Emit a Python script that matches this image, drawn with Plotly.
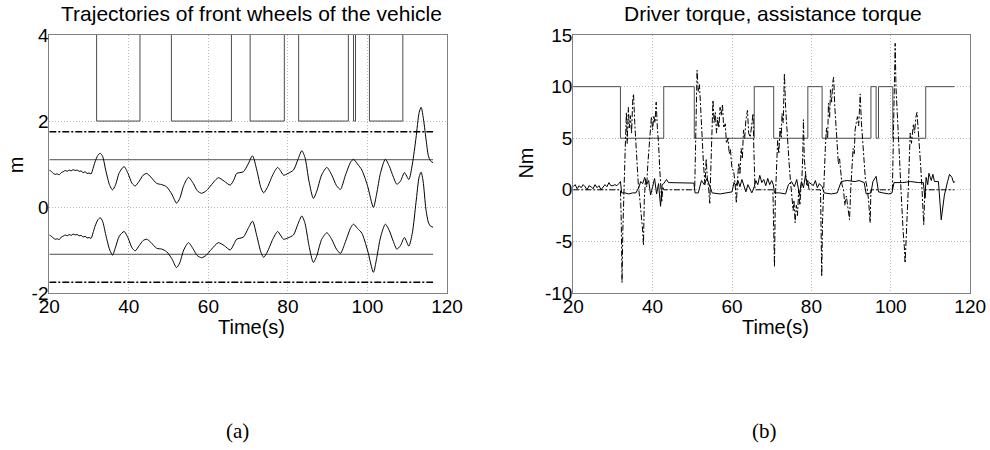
import plotly.graph_objects as go
from plotly.subplots import make_subplots

# ---------------- Left panel data (trajectories, m) ----------------
mode_t = [20, 31.9, 42.8, 50.7, 65.8, 70.5, 79.1, 82.7, 95.2, 96.5, 97.0, 100.5, 108.9, 116.5]
mode_left = [6, 2, 6, 2, 6, 2, 6, 2, 6, 2, 6, 2, 6, 6]

lane_t = [20, 116.5]
lane_outer = [1.75, -1.75]
lane_inner = [1.1, -1.1]

wheel_t = [20, 20.5, 21, 21.5, 22, 22.5, 23, 23.5, 24, 24.5, 25, 25.5, 26, 26.5, 27, 27.5, 28, 28.5,
           29, 29.5, 30, 30.5, 31, 31.5, 32.2, 32.8, 33.4, 34.2, 35.2, 35.9, 36.6, 37.6, 38.8, 39.8,
           40.8, 41.6, 42.6, 43.6, 44.5, 45.5, 47.0, 48.3, 49.5, 50.8, 52.0, 52.8, 53.8, 55.0, 56.2,
           57.2, 58.3, 59.5, 60.8, 62.5, 64.0, 65.5, 66.5, 67.1, 68.8, 70.0, 71.1, 72.2, 73.2, 73.9,
           74.8, 76.2, 77.4, 78.1, 78.9, 80.0, 81.4, 82.5, 83.5, 84.3, 85.3, 86.4, 87.2, 88.5, 89.8,
           91.0, 92.2, 93.2, 94.5, 95.8, 96.5, 97.5, 98.6, 100.0, 101.5, 102.3, 103.3, 104.5, 105.5,
           106.5, 107.4, 108.3, 109.3, 110.4, 111.3, 112.2, 113.0, 113.5, 114.0, 114.7, 115.3, 115.8, 116.5]
wheel_left = [0.86, 0.83, 0.78, 0.76, 0.77, 0.75, 0.80, 0.82, 0.85, 0.83, 0.86, 0.84, 0.87, 0.85, 0.86,
              0.83, 0.84, 0.80, 0.82, 0.78, 0.79, 0.77, 0.90, 1.05, 1.20, 1.25, 1.18, 0.85, 0.50, 0.40,
              0.50, 0.80, 0.94, 0.78, 0.55, 0.49, 0.60, 0.74, 0.78, 0.70, 0.55, 0.52, 0.47, 0.30, 0.09,
              0.20, 0.50, 0.69, 0.55, 0.38, 0.32, 0.38, 0.52, 0.68, 0.60, 0.51, 0.65, 0.78, 0.82, 1.00,
              1.19, 0.85, 0.45, 0.33, 0.45, 0.75, 0.92, 0.85, 0.74, 0.78, 0.86, 1.10, 1.31, 1.15, 0.60,
              0.20, 0.35, 0.75, 0.92, 0.75, 0.50, 0.41, 0.75, 1.05, 1.11, 1.00, 0.86, 0.50, -0.01, 0.30,
              0.80, 1.11, 0.95, 0.70, 0.53, 0.60, 0.80, 0.64, 1.00, 1.60, 2.20, 2.32, 2.10, 1.60, 1.20,
              1.08, 1.03]
wheel_right = [-0.65, -0.68, -0.72, -0.75, -0.74, -0.76, -0.70, -0.68, -0.65, -0.67, -0.64, -0.66, -0.63,
               -0.65, -0.64, -0.67, -0.66, -0.70, -0.68, -0.72, -0.71, -0.73, -0.60, -0.45, -0.30, -0.25,
               -0.33, -0.65, -1.00, -1.12, -0.95, -0.68, -0.57, -0.72, -0.95, -1.02, -0.90, -0.78, -0.75,
               -0.82, -0.96, -0.98, -1.04, -1.20, -1.41, -1.30, -1.00, -0.83, -0.98, -1.13, -1.18, -1.12,
               -0.98, -0.83, -0.90, -1.00, -0.85, -0.75, -0.70, -0.50, -0.33, -0.68, -1.05, -1.17, -1.05,
               -0.75, -0.57, -0.65, -0.75, -0.72, -0.65, -0.40, -0.21, -0.38, -0.90, -1.29, -1.15, -0.75,
               -0.60, -0.75, -0.98, -1.08, -0.80, -0.48, -0.40, -0.50, -0.61, -1.00, -1.52, -1.20, -0.70,
               -0.40, -0.55, -0.80, -0.98, -0.90, -0.71, -0.91, -0.60, 0.10, 0.70, 0.81, 0.60, -0.05,
               -0.35, -0.44, -0.47]

# ---------------- Right panel data (torques, Nm) ----------------
mode_t_r = [20, 31.9, 42.8, 50.5, 65.6, 70.5, 79.1, 82.7, 95.0, 96.3, 96.9, 100.5, 108.8, 116.0]
mode_right = [10, 5, 10, 5, 10, 5, 10, 5, 10, 5, 10, 5, 10, 10]

driver_t = [20, 20.5, 21, 21.5, 22, 22.5, 23, 23.5, 24, 24.5, 25, 25.5, 26, 26.5, 27, 27.5, 28, 28.5,
            29, 29.5, 30, 30.5, 31, 31.5, 31.9, 32.2, 33, 34, 35, 35.8, 36.5, 37, 37.5, 38, 38.5, 39,
            39.5, 40, 40.5, 41, 41.5, 42, 42.4, 42.8, 43.5, 44, 50.4, 50.7, 51.5, 52.3, 53, 53.7, 54.5,
            55, 57, 58.5, 60, 60.5, 61, 61.5, 62, 62.5, 63, 63.5, 64, 65, 65.6, 66, 66.5, 67, 67.5, 68,
            68.5, 69, 69.5, 70, 70.4, 70.7, 72, 73.5, 74.2, 75, 75.7, 76.3, 77, 77.5, 78, 78.5, 79,
            79.5, 80.5, 81, 81.5, 82, 82.7, 83.2, 85, 86.5, 87.5, 89, 91, 92, 93.3, 93.8, 95, 95.5,
            96.3, 96.9, 98, 99.5, 100.3, 100.8, 103, 105, 107, 108.2, 108.6, 108.9, 109.3, 109.6, 110.2,
            110.6, 111, 112, 112.7, 113.5, 114.3, 114.8, 115.4, 115.8, 116.2]
driver_torque = [0.3, 0.5, 0.1, 0.4, 0.2, 0.5, 0.3, 0.0, 0.4, 0.3, 0.1, 0.5, 0.2, 0.4, 0.0, 0.3, 0.5,
                 0.3, 0.7, 0.4, 0.4, 0.5, 0.4, 0.6, 0.8, -0.3, -0.3, -0.4, -0.3, -0.3, 0.2, 0.8, 0.6,
                 1.2, 0.5, 0.9, -0.5, 0.3, 1.1, -0.4, 0.6, -1.6, 0.5, 0.6, 1.0, 0.7, 0.65, -0.3, -0.3,
                 0.9, 0.5, 1.1, 0.2, -0.3, -0.4, -0.3, -0.2, 0.7, 0.4, 0.9, 0.3, 1.0, 0.4, -0.2, 0.5,
                 -0.3, 0.3, 0.9, 0.5, 1.4, 0.7, 1.0, 0.4, 1.1, 0.5, 0.9, 0.5, -0.3, -0.3, -0.4, 0.5,
                 0.8, 0.3, 1.0, -0.5, 0.8, 0.2, 1.4, 0.4, 0.7, 0.4, 0.9, 0.2, 0.6, 0.3, -0.3, -0.4,
                 -0.3, 0.8, 0.9, 0.8, 0.9, 0.7, -0.4, -0.3, 0.8, 1.3, -0.2, -0.3, -0.4, -0.3, 0.7, 0.7,
                 0.8, 0.7, 0.7, -0.8, 1.2, 0.5, 1.6, 0.9, 1.5, 0.8, 0.8, -2.9, -0.5, 0.8, 1.5, 1.2,
                 0.7, 0.8]

assist_t = [20, 31.9, 32.1, 32.3, 32.5, 32.8, 33.1, 33.4, 33.6, 33.9, 34.1, 34.4, 34.7, 35.0, 35.2, 35.5,
            35.8, 36.1, 36.4, 36.8, 37.2, 37.5, 37.7, 37.9, 38.2, 38.5, 38.8, 39.1, 39.4, 39.7, 40.0,
            40.3, 40.6, 40.9, 41.2, 41.5, 41.8, 42.1, 42.3, 42.6, 42.8,
            50.6, 50.9, 51.2, 51.5, 51.8, 52.1, 52.4, 52.8, 53.2, 53.5, 53.8, 54.1, 54.4, 54.7, 55.0,
            55.2, 55.5, 55.8, 56.1, 56.4, 56.7, 57.0, 57.3, 57.6, 57.9, 58.3, 58.6, 59.0, 59.3, 59.6,
            60.0, 60.4, 60.8, 61.1, 61.4, 61.7, 62.0, 62.3, 62.6, 62.9, 63.2, 63.5, 63.9, 64.2, 64.6,
            65.0, 65.3, 65.5, 65.8,
            70.3, 70.5, 70.7, 70.9, 71.2, 71.5, 71.8, 72.1, 72.4, 72.6, 72.9, 73.2, 73.5, 73.8, 74.1,
            74.4, 74.7, 75.1, 75.4, 75.6, 75.9, 76.2, 76.5, 76.8, 77.1, 77.4, 77.6, 77.8, 78.0, 78.2,
            78.5, 78.8, 79.1, 79.4,
            82.3, 82.6, 82.8, 83.1, 83.5, 83.8, 84.1, 84.3, 84.6, 84.8, 85.1, 85.4, 85.6, 85.9, 86.2,
            86.5, 86.8, 87.1, 87.3, 87.7, 88.1, 88.4, 88.8, 89.2, 89.6, 89.9, 90.2, 90.5, 90.8, 91.0,
            91.3, 91.6, 91.9, 92.3, 92.6, 93.0, 93.3, 93.6, 94.0, 94.4, 94.8, 95.0,
            100.4, 100.6, 100.8, 101.1, 101.3, 101.6, 101.9, 102.2, 102.5, 102.8, 103.1, 103.4, 103.6,
            103.9, 104.2, 104.5, 104.7, 104.9, 105.2, 105.5, 105.7, 106.0, 106.3, 106.6, 106.9, 107.2,
            107.5, 107.8, 108.1, 108.3, 108.5, 108.8, 116.0]
assist_torque = [0, 0, -3, -9.0, -4, 1, 4, 7.5, 4.5, 8.0, 6, 7.2, 5.5, 8.8, 9.3, 6.5, 4, 1.5, 0.5, -1,
                 -2.5, -4, -5.4, -1, 1, 0.3, 2.5, 4, 5.5, 7.1, 5.8, 7.2, 6.5, 8.5, 6, 4.5, 2, 0.5, -1.2,
                 0.3, 0,
                 0, 6, 11.6, 9.5, 10.2, 8.0, 5, 2.6, 0.5, 3, 1.0, 0.2, -1.3, 2, 6, 8.7, 6.5, 7.5, 5.5,
                 7, 6, 8.0, 7.2, 8.3, 6, 6.4, 4.5, 5, 3.5, 3.9, 2, 1.9, 0.5, -1.3, 1, 2.6, 1.5, 4, 3,
                 5.8, 5, 6.8, 7.7, 5.5, 5.1, 6.5, 7.4, 4, 0,
                 0, -3, -7.5, -1, 2, 4.8, 3.5, 6, 5, 7.4, 6.5, 11.3, 8, 5.8, 4, 2.5, 1, -0.6, -2, -1,
                 -3.2, -1.5, -2.5, 0, -1.5, 0.5, 1, 3, 6.8, 3, 1.9, 0.5, 1, 0,
                 0, -8.4, -3, 1, 4.0, 6, 5, 8.4, 7, 9.7, 8.5, 10.5, 10.9, 8, 6, 4.0, 2.5, 3, 1.9, 0.5,
                 0, -1.5, -0.6, -2, -2.9, 0, 2.6, 4, 3.5, 5.8, 6.5, 7.1, 6.2, 9.3, 6.5, 4.2, 2.5, 1,
                 0.3, -1, -3.2, 0,
                 0, 5, 10, 14.2, 10, 8, 5.8, 3, 0.5, -2.3, -4, -5.5, -7.1, -4.5, -2.3, 1, 3.5, 5.5, 4.5,
                 6.0, 6.4, 5.5, 7, 7.5, 6, 4.8, 2.5, 0.5, -1.3, -3.4, -1, 0, 0]

x_ticks = [20, 40, 60, 80, 100, 120]
left_yticks = [-2, 0, 2, 4]
right_yticks = [-10, -5, 0, 5, 10, 15]

titles = ["Trajectories of front wheels of the vehicle", "Driver torque, assistance torque"]
ylabels = ["m", "Nm"]
xlabel = "Time(s)"
panel_labels = ["(a)", "(b)"]

# ---------------- Figure ----------------
fig = make_subplots(rows=1, cols=2)
SANS = "Liberation Sans, Arial, sans-serif"
BLACK = "#000000"
GRAY = "#4d4d4d"

# left panel
fig.add_trace(go.Scatter(x=mode_t, y=mode_left, mode="lines", line=dict(color=GRAY, width=1, shape="hv"),
                         showlegend=False), row=1, col=1)
for v in lane_outer:
    fig.add_trace(go.Scatter(x=lane_t, y=[v, v], mode="lines",
                             line=dict(color=BLACK, width=1.6, dash="7px,2px,2px,2px"),
                             showlegend=False), row=1, col=1)
for v in lane_inner:
    fig.add_trace(go.Scatter(x=lane_t, y=[v, v], mode="lines", line=dict(color=GRAY, width=1),
                             showlegend=False), row=1, col=1)
fig.add_trace(go.Scatter(x=wheel_t, y=wheel_left, mode="lines",
                         line=dict(color=BLACK, width=1, shape="spline", smoothing=0.7),
                         showlegend=False), row=1, col=1)
fig.add_trace(go.Scatter(x=wheel_t, y=wheel_right, mode="lines",
                         line=dict(color=BLACK, width=1, shape="spline", smoothing=0.7),
                         showlegend=False), row=1, col=1)

# right panel
fig.add_trace(go.Scatter(x=mode_t_r, y=mode_right, mode="lines", line=dict(color=GRAY, width=1, shape="hv"),
                         showlegend=False), row=1, col=2)
fig.add_trace(go.Scatter(x=assist_t, y=assist_torque, mode="lines",
                         line=dict(color=BLACK, width=1, dash="6px,2px,2px,2px"),
                         showlegend=False), row=1, col=2)
fig.add_trace(go.Scatter(x=driver_t, y=driver_torque, mode="lines", line=dict(color=BLACK, width=1),
                         showlegend=False), row=1, col=2)

axis_common = dict(showline=True, linecolor="#808080", linewidth=1, mirror=True,
                   showgrid=True, gridcolor="#b8b8b8", griddash="1px,2px", gridwidth=1,
                   zeroline=False, ticks="", automargin=False, ticklabelstandoff=-4,
                   tickfont=dict(family=SANS, size=19, color=BLACK))


def labels(vals):
    return [str(v) for v in vals]


fig.update_xaxes(range=[20, 120], tickvals=x_ticks, ticktext=labels(x_ticks), **axis_common)
fig.update_layout(
    xaxis=dict(domain=[0.0498, 0.4515]),
    xaxis2=dict(domain=[0.579, 0.980]),
    yaxis=dict(domain=[0.349, 0.922], range=[-2, 4], tickvals=left_yticks,
               ticktext=labels(left_yticks), **axis_common),
    yaxis2=dict(domain=[0.349, 0.922], range=[-10, 15], tickvals=right_yticks,
                ticktext=labels(right_yticks), **axis_common),
)

ann = []
for x, t in zip([0.2545, 0.781], titles):
    ann.append(dict(x=x, y=0.971, xref="paper", yref="paper", text=t, showarrow=False,
                    font=dict(family=SANS, size=21, color=BLACK), xanchor="center", yanchor="middle"))
for x in [0.2545, 0.783]:
    ann.append(dict(x=x, y=0.274, xref="paper", yref="paper", text=xlabel, showarrow=False,
                    font=dict(family=SANS, size=20, color=BLACK), xanchor="center", yanchor="middle"))
for x, y, t in zip([0.0162, 0.531], [0.633, 0.638], ylabels):
    ann.append(dict(x=x, y=y, xref="paper", yref="paper", text=t, showarrow=False, textangle=-90,
                    font=dict(family=SANS, size=20, color=BLACK), xanchor="center", yanchor="middle"))
for x, t in zip([0.2404, 0.7727], panel_labels):
    ann.append(dict(x=x, y=0.042, xref="paper", yref="paper", text=t, showarrow=False,
                    font=dict(family="Liberation Serif, Times New Roman, serif", size=21, color=BLACK),
                    xanchor="center", yanchor="middle"))

fig.update_layout(width=990, height=450, margin=dict(l=0, r=0, t=0, b=0),
                  paper_bgcolor="white", plot_bgcolor="white", annotations=ann)

fig.write_html("out.html")
